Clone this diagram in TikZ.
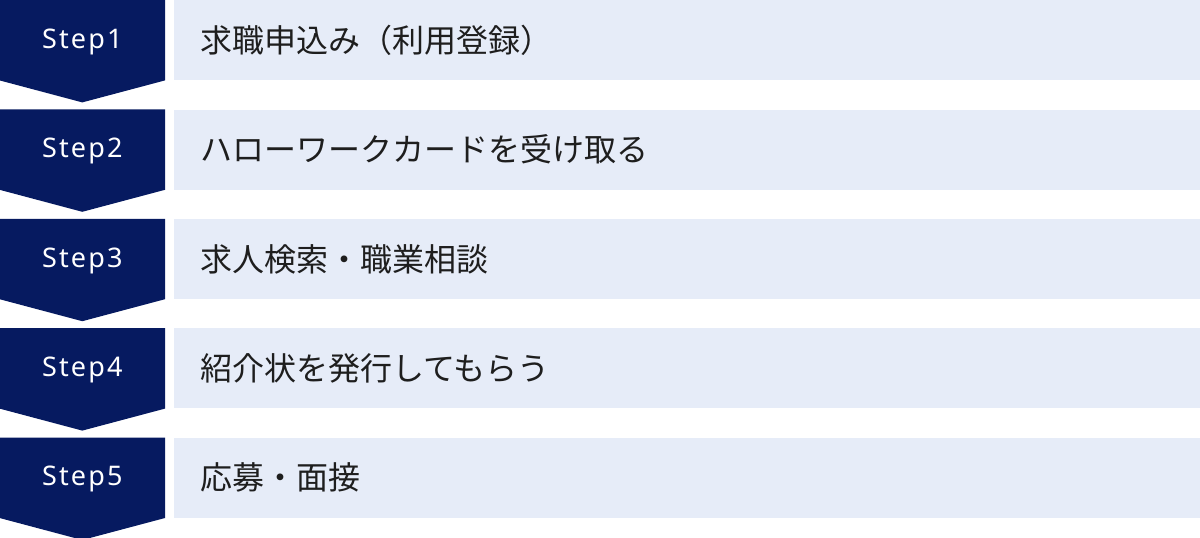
\documentclass[tikz,border=0pt]{standalone}
\usepackage{fontspec}
\setmainfont{Noto Sans CJK JP}
\newfontfamily\stepfont[LetterSpace=8]{Noto Sans}
\usepackage{xcolor}
\usepackage{tikz}
\usetikzlibrary{positioning, calc, backgrounds}
\definecolor{navy}{HTML}{061A60}
\definecolor{paleblue}{HTML}{E6ECF8}
\definecolor{ink}{HTML}{1E1E1E}
\tikzstyle{stepbox} = [rectangle, minimum height=80pt, text width=974pt, inner xsep=26pt, inner ysep=0pt, align=left, fill=paleblue, text=ink, font=\fontsize{32}{32}\selectfont]
\tikzstyle{marker} = [rectangle, minimum width=165pt, minimum height=80pt, inner sep=0pt, text height=19pt, text depth=3pt, text=white, font=\stepfont\fontsize{27}{27}\selectfont]
\tikzstyle{chevron} = [fill=navy]

\begin{document}
\begin{tikzpicture}[node distance=29pt]
    \useasboundingbox (0,0) rectangle (1200pt,-538pt);
    % Content boxes
    \node[stepbox, anchor=north west] (box1) at (174pt,0) {求職申込み（利用登録）};
    \node[stepbox, below=of box1] (box2) {ハローワークカードを受け取る};
    \node[stepbox, below=of box2] (box3) {求人検索・職業相談};
    \node[stepbox, below=of box3] (box4) {紹介状を発行してもらう};
    \node[stepbox, below=of box4] (box5) {応募・面接};
    
    % Step markers
    \node[marker, left=9pt of box1] (step1) {Step1};
    \node[marker, left=9pt of box2] (step2) {Step2};
    \node[marker, left=9pt of box3] (step3) {Step3};
    \node[marker, left=9pt of box4] (step4) {Step4};
    \node[marker, left=9pt of box5] (step5) {Step5};
    
    % Chevron shapes behind the markers
    \begin{scope}[on background layer]
    \fill[chevron] (step1.north west) -- (step1.north east) -- (step1.south east) -- ($(step1.south)+(0,-22pt)$) -- (step1.south west) -- cycle;
    \fill[chevron] (step2.north west) -- (step2.north east) -- (step2.south east) -- ($(step2.south)+(0,-22pt)$) -- (step2.south west) -- cycle;
    \fill[chevron] (step3.north west) -- (step3.north east) -- (step3.south east) -- ($(step3.south)+(0,-22pt)$) -- (step3.south west) -- cycle;
    \fill[chevron] (step4.north west) -- (step4.north east) -- (step4.south east) -- ($(step4.south)+(0,-22pt)$) -- (step4.south west) -- cycle;
    \fill[chevron] (step5.north west) -- (step5.north east) -- (step5.south east) -- ($(step5.south)+(0,-22pt)$) -- (step5.south west) -- cycle;
    \end{scope}
    
\end{tikzpicture}
\end{document}
